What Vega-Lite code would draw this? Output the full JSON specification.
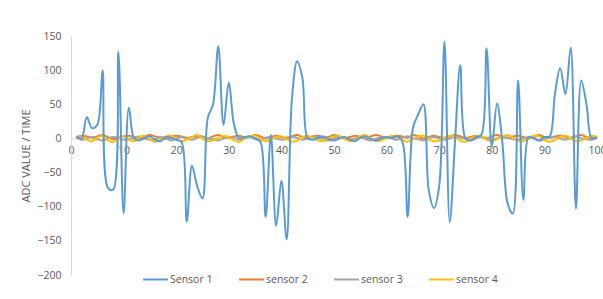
{
  "$schema": "https://vega.github.io/schema/vega-lite/v6.json",
  "width": 526,
  "height": 239,
  "autosize": {"type": "none"},
  "padding": {"left": 71, "top": 36, "right": 6, "bottom": 24},
  "background": "white",
  "config": {
    "view": {"stroke": null},
    "font": "Open Sans",
    "axis": {"labelColor": "#595959", "titleColor": "#595959", "labelFont": "Open Sans", "titleFont": "Open Sans", "domainColor": "#d9d9d9", "grid": false, "ticks": false}
  },
  "data": {"values": [
    {"x":1,"Sensor 1":3,"sensor 2":2,"sensor 3":1,"sensor 4":0},
    {"x":2,"Sensor 1":0,"sensor 2":4,"sensor 3":-2,"sensor 4":3},
    {"x":3,"Sensor 1":31,"sensor 2":3,"sensor 3":0,"sensor 4":-2},
    {"x":4,"Sensor 1":15,"sensor 2":1,"sensor 3":2,"sensor 4":-4},
    {"x":5,"Sensor 1":20,"sensor 2":3,"sensor 3":-1,"sensor 4":1},
    {"x":6,"Sensor 1":100,"sensor 2":5,"sensor 3":-3,"sensor 4":4},
    {"x":7,"Sensor 1":-72,"sensor 2":2,"sensor 3":0,"sensor 4":-3},
    {"x":8,"Sensor 1":-75,"sensor 2":-1,"sensor 3":2,"sensor 4":-5},
    {"x":9,"Sensor 1":127,"sensor 2":1,"sensor 3":1,"sensor 4":0},
    {"x":10,"Sensor 1":-110,"sensor 2":3,"sensor 3":-2,"sensor 4":3},
    {"x":11,"Sensor 1":45,"sensor 2":4,"sensor 3":-1,"sensor 4":-2},
    {"x":12,"Sensor 1":0,"sensor 2":2,"sensor 3":1,"sensor 4":-4},
    {"x":13,"Sensor 1":-3,"sensor 2":0,"sensor 3":3,"sensor 4":2},
    {"x":14,"Sensor 1":1,"sensor 2":3,"sensor 3":0,"sensor 4":4},
    {"x":15,"Sensor 1":3,"sensor 2":5,"sensor 3":-2,"sensor 4":-1},
    {"x":16,"Sensor 1":-2,"sensor 2":3,"sensor 3":-1,"sensor 4":-5},
    {"x":17,"Sensor 1":-4,"sensor 2":1,"sensor 3":2,"sensor 4":-2},
    {"x":18,"Sensor 1":2,"sensor 2":-1,"sensor 3":1,"sensor 4":3},
    {"x":19,"Sensor 1":1,"sensor 2":2,"sensor 3":-3,"sensor 4":4},
    {"x":20,"Sensor 1":-2,"sensor 2":4,"sensor 3":0,"sensor 4":-1},
    {"x":21,"Sensor 1":-5,"sensor 2":3,"sensor 3":2,"sensor 4":-4},
    {"x":22,"Sensor 1":-122,"sensor 2":1,"sensor 3":0,"sensor 4":-2},
    {"x":23,"Sensor 1":-40,"sensor 2":2,"sensor 3":-2,"sensor 4":2},
    {"x":24,"Sensor 1":-70,"sensor 2":4,"sensor 3":1,"sensor 4":5},
    {"x":25,"Sensor 1":-88,"sensor 2":2,"sensor 3":3,"sensor 4":0},
    {"x":26,"Sensor 1":30,"sensor 2":0,"sensor 3":0,"sensor 4":-4},
    {"x":27,"Sensor 1":50,"sensor 2":3,"sensor 3":-1,"sensor 4":-3},
    {"x":28,"Sensor 1":135,"sensor 2":5,"sensor 3":-3,"sensor 4":1},
    {"x":29,"Sensor 1":20,"sensor 2":2,"sensor 3":0,"sensor 4":4},
    {"x":30,"Sensor 1":82,"sensor 2":1,"sensor 3":2,"sensor 4":2},
    {"x":31,"Sensor 1":20,"sensor 2":3,"sensor 3":1,"sensor 4":-3},
    {"x":32,"Sensor 1":0,"sensor 2":4,"sensor 3":-2,"sensor 4":-5},
    {"x":33,"Sensor 1":2,"sensor 2":1,"sensor 3":0,"sensor 4":0},
    {"x":34,"Sensor 1":3,"sensor 2":2,"sensor 3":2,"sensor 4":3},
    {"x":35,"Sensor 1":0,"sensor 2":5,"sensor 3":-1,"sensor 4":4},
    {"x":36,"Sensor 1":-5,"sensor 2":3,"sensor 3":-3,"sensor 4":-1},
    {"x":37,"Sensor 1":-115,"sensor 2":0,"sensor 3":1,"sensor 4":-4},
    {"x":38,"Sensor 1":5,"sensor 2":2,"sensor 3":2,"sensor 4":-2},
    {"x":39,"Sensor 1":-128,"sensor 2":4,"sensor 3":0,"sensor 4":2},
    {"x":40,"Sensor 1":-62,"sensor 2":2,"sensor 3":-2,"sensor 4":3},
    {"x":41,"Sensor 1":-148,"sensor 2":1,"sensor 3":-1,"sensor 4":-1},
    {"x":42,"Sensor 1":58,"sensor 2":3,"sensor 3":2,"sensor 4":-5},
    {"x":43,"Sensor 1":113,"sensor 2":5,"sensor 3":1,"sensor 4":-3},
    {"x":44,"Sensor 1":88,"sensor 2":2,"sensor 3":-2,"sensor 4":2},
    {"x":45,"Sensor 1":0,"sensor 2":0,"sensor 3":0,"sensor 4":4},
    {"x":46,"Sensor 1":-2,"sensor 2":3,"sensor 3":3,"sensor 4":1},
    {"x":47,"Sensor 1":1,"sensor 2":4,"sensor 3":1,"sensor 4":-3},
    {"x":48,"Sensor 1":3,"sensor 2":1,"sensor 3":-1,"sensor 4":-4},
    {"x":49,"Sensor 1":-1,"sensor 2":2,"sensor 3":-3,"sensor 4":0},
    {"x":50,"Sensor 1":-3,"sensor 2":5,"sensor 3":0,"sensor 4":3},
    {"x":51,"Sensor 1":0,"sensor 2":3,"sensor 3":2,"sensor 4":4},
    {"x":52,"Sensor 1":2,"sensor 2":1,"sensor 3":1,"sensor 4":-1},
    {"x":53,"Sensor 1":-2,"sensor 2":2,"sensor 3":-2,"sensor 4":-4},
    {"x":54,"Sensor 1":-4,"sensor 2":4,"sensor 3":0,"sensor 4":-2},
    {"x":55,"Sensor 1":1,"sensor 2":2,"sensor 3":2,"sensor 4":3},
    {"x":56,"Sensor 1":3,"sensor 2":0,"sensor 3":-1,"sensor 4":5},
    {"x":57,"Sensor 1":-1,"sensor 2":3,"sensor 3":-3,"sensor 4":0},
    {"x":58,"Sensor 1":-3,"sensor 2":5,"sensor 3":0,"sensor 4":-4},
    {"x":59,"Sensor 1":0,"sensor 2":3,"sensor 3":1,"sensor 4":-3},
    {"x":60,"Sensor 1":2,"sensor 2":1,"sensor 3":2,"sensor 4":1},
    {"x":61,"Sensor 1":1,"sensor 2":2,"sensor 3":0,"sensor 4":4},
    {"x":62,"Sensor 1":3,"sensor 2":4,"sensor 3":-2,"sensor 4":2},
    {"x":63,"Sensor 1":-5,"sensor 2":3,"sensor 3":1,"sensor 4":-2},
    {"x":64,"Sensor 1":-115,"sensor 2":1,"sensor 3":3,"sensor 4":-5},
    {"x":65,"Sensor 1":15,"sensor 2":5,"sensor 3":0,"sensor 4":-1},
    {"x":66,"Sensor 1":35,"sensor 2":3,"sensor 3":-1,"sensor 4":3},
    {"x":67,"Sensor 1":50,"sensor 2":0,"sensor 3":-3,"sensor 4":4},
    {"x":68,"Sensor 1":-75,"sensor 2":2,"sensor 3":1,"sensor 4":-1},
    {"x":69,"Sensor 1":-102,"sensor 2":4,"sensor 3":2,"sensor 4":-4},
    {"x":70,"Sensor 1":-70,"sensor 2":2,"sensor 3":0,"sensor 4":-3},
    {"x":71,"Sensor 1":142,"sensor 2":1,"sensor 3":-2,"sensor 4":1},
    {"x":72,"Sensor 1":-123,"sensor 2":3,"sensor 3":0,"sensor 4":4},
    {"x":73,"Sensor 1":-5,"sensor 2":5,"sensor 3":2,"sensor 4":2},
    {"x":74,"Sensor 1":107,"sensor 2":3,"sensor 3":1,"sensor 4":-3},
    {"x":75,"Sensor 1":0,"sensor 2":1,"sensor 3":-1,"sensor 4":-5},
    {"x":76,"Sensor 1":-3,"sensor 2":2,"sensor 3":-3,"sensor 4":0},
    {"x":77,"Sensor 1":2,"sensor 2":4,"sensor 3":0,"sensor 4":3},
    {"x":78,"Sensor 1":5,"sensor 2":2,"sensor 3":2,"sensor 4":4},
    {"x":79,"Sensor 1":132,"sensor 2":0,"sensor 3":1,"sensor 4":-2},
    {"x":80,"Sensor 1":-12,"sensor 2":3,"sensor 3":-2,"sensor 4":-4},
    {"x":81,"Sensor 1":51,"sensor 2":5,"sensor 3":0,"sensor 4":-1},
    {"x":82,"Sensor 1":-5,"sensor 2":2,"sensor 3":3,"sensor 4":3},
    {"x":83,"Sensor 1":-95,"sensor 2":1,"sensor 3":1,"sensor 4":5},
    {"x":84,"Sensor 1":-110,"sensor 2":3,"sensor 3":-1,"sensor 4":1},
    {"x":85,"Sensor 1":85,"sensor 2":4,"sensor 3":-2,"sensor 4":-3},
    {"x":86,"Sensor 1":-90,"sensor 2":2,"sensor 3":0,"sensor 4":-4},
    {"x":87,"Sensor 1":2,"sensor 2":0,"sensor 3":2,"sensor 4":0},
    {"x":88,"Sensor 1":0,"sensor 2":3,"sensor 3":1,"sensor 4":4},
    {"x":89,"Sensor 1":-3,"sensor 2":5,"sensor 3":-3,"sensor 4":3},
    {"x":90,"Sensor 1":2,"sensor 2":2,"sensor 3":-1,"sensor 4":-2},
    {"x":91,"Sensor 1":3,"sensor 2":1,"sensor 3":1,"sensor 4":-5},
    {"x":92,"Sensor 1":65,"sensor 2":3,"sensor 3":2,"sensor 4":-2},
    {"x":93,"Sensor 1":103,"sensor 2":4,"sensor 3":0,"sensor 4":2},
    {"x":94,"Sensor 1":65,"sensor 2":2,"sensor 3":-2,"sensor 4":4},
    {"x":95,"Sensor 1":133,"sensor 2":0,"sensor 3":1,"sensor 4":0},
    {"x":96,"Sensor 1":-103,"sensor 2":3,"sensor 3":3,"sensor 4":-4},
    {"x":97,"Sensor 1":85,"sensor 2":5,"sensor 3":0,"sensor 4":-3},
    {"x":98,"Sensor 1":50,"sensor 2":2,"sensor 3":-1,"sensor 4":1},
    {"x":99,"Sensor 1":0,"sensor 2":1,"sensor 3":-2,"sensor 4":4},
    {"x":100,"Sensor 1":2,"sensor 2":3,"sensor 3":1,"sensor 4":2}
  ]},
  "transform": [
    {"fold": ["Sensor 1", "sensor 2", "sensor 3", "sensor 4"], "as": ["series", "v"]}
  ],
  "encoding": {
    "x": {
      "field": "x", "type": "quantitative",
      "scale": {"domain": [0, 100], "nice": false},
      "axis": {"values": [0,10,20,30,40,50,60,70,80,90,100], "title": null, "offset": -136.6, "labelFontSize": 10.5, "labelPadding": 7, "labelFlush": false, "domainWidth": 1}
    },
    "y": {
      "field": "v", "type": "quantitative",
      "scale": {"domain": [-200, 150], "nice": false},
      "axis": {"values": [-200,-150,-100,-50,0,50,100,150], "title": "ADC VALUE / TIME", "titleFontSize": 11, "titleFontWeight": "normal", "labelFontSize": 10.5, "labelPadding": 10, "titlePadding": 5}
    },
    "color": {
      "field": "series", "type": "nominal",
      "scale": {"domain": ["Sensor 1", "sensor 2", "sensor 3", "sensor 4"], "range": ["#5B9BD5", "#ED7D31", "#A5A5A5", "#FFC000"]},
      "legend": {"title": null, "orient": "none", "direction": "horizontal", "columns": 4, "legendX": 71, "legendY": 230, "symbolType": "stroke", "symbolSize": 625, "symbolStrokeWidth": 2, "labelFontSize": 10.5, "labelColor": "#595959", "labelFont": "Open Sans", "labelOffset": 1, "columnPadding": 22}
    }
  },
  "layer": [
    {
      "transform": [{"filter": "datum.series != 'Sensor 1'"}],
      "mark": {"type": "line", "interpolate": "catmull-rom", "strokeWidth": 2}
    },
    {
      "transform": [{"filter": "datum.series == 'Sensor 1'"}],
      "mark": {"type": "line", "interpolate": "catmull-rom", "strokeWidth": 2}
    }
  ]
}
